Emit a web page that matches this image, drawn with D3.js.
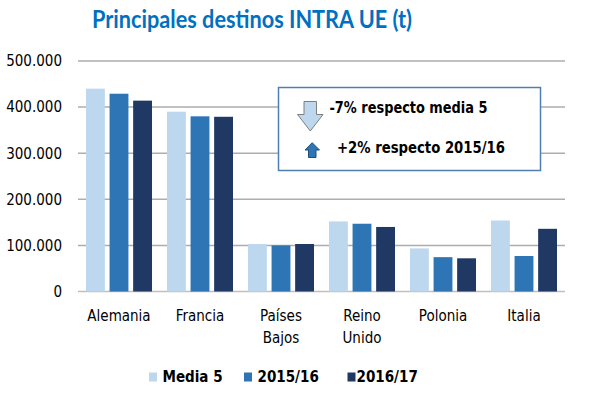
<!DOCTYPE html>
<html>
<head>
<meta charset="utf-8">
<script src="https://cdn.jsdelivr.net/npm/d3@7"></script>
<style>
  body { margin: 0; background: #fff; }
  svg { display: block; }
  text { font-family: "DejaVu Sans Condensed", "DejaVu Sans", sans-serif; fill: #000; }
</style>
</head>
<body>
<svg id="board" width="597" height="404"></svg>
<script>
// datos (toneladas)
let countries = [['Alemania'], ['Francia'], ['Países', 'Bajos'], ['Reino', 'Unido'], ['Polonia'], ['Italia']]
let seriesNames = ['Media 5', '2015/16', '2016/17']
let media5 = [440000, 390000, 103000, 152000, 93500, 154000]
let y1516 = [429000, 380000, 100000, 147000, 74500, 77000]
let y1617 = [414000, 379000, 103000, 140000, 72000, 136000]
let yTicks = [0, 100000, 200000, 300000, 400000, 500000]
let colors = ['#BDD7EE', '#2E75B6', '#1F3864']

let series = [media5, y1516, y1617]

let board = d3.select('#board')

let x = d3.scaleBand()
    .domain(countries.map((c, i) => i))
    .range([78.5, 564.5])
    .paddingInner(0)
    .paddingOuter(0)

let xInner = d3.scaleBand()
    .domain(seriesNames)
    .range([7.5, 73.5])
    .paddingInner(0.2)
    .paddingOuter(0)

let y = d3.scaleLinear()
    .domain([0, 500000])
    .range([291.5, 61])

let fmt = (v) => d3.format(',')(v).replace(/,/g, '.')

// titulo
board.append('text')
    .attr('x', 252)
    .attr('y', 28)
    .attr('text-anchor', 'middle')
    .attr('textLength', 320)
    .attr('lengthAdjust', 'spacingAndGlyphs')
    .style('font-family', 'Lato, "Open Sans", sans-serif')
    .style('font-weight', 'bold')
    .style('font-size', '24px')
    .style('fill', '#0070C0')
    .text('Principales destinos INTRA UE (t)')

// lineas de la rejilla
board.append('g')
    .selectAll('line')
    .data(yTicks)
    .enter()
    .append('line')
    .attr('x1', 78)
    .attr('x2', 565)
    .attr('y1', (d) => y(d))
    .attr('y2', (d) => y(d))
    .attr('stroke', (d) => d === 0 ? '#BFBFBF' : '#ADADAD')
    .attr('stroke-width', 1.5)

// etiquetas del eje y
let yAxis = d3.axisLeft(y).tickValues(yTicks).tickFormat(fmt).tickSize(0).tickPadding(0)
let yg = board.append('g')
    .attr('transform', 'translate(62,0)')
    .call(yAxis)
yg.select('.domain').remove()
yg.selectAll('text')
    .style('font-size', '15px')
    .style('font-family', '"DejaVu Sans Condensed", "DejaVu Sans", sans-serif')
    .attr('fill', '#000')

// barras
let groups = board.append('g')
    .selectAll('g')
    .data(countries)
    .enter()
    .append('g')
    .attr('transform', (d, i) => 'translate(' + x(i) + ',0)')

groups.selectAll('rect')
    .data((d, i) => series.map((s, k) => ({ name: seriesNames[k], value: s[i], k: k })))
    .enter()
    .append('rect')
    .attr('x', (d) => xInner(d.name))
    .attr('width', xInner.bandwidth())
    .attr('y', (d) => y(d.value))
    .attr('height', (d) => y(0) - y(d.value))
    .attr('fill', (d) => colors[d.k])

// etiquetas del eje x
groups.append('text')
    .attr('text-anchor', 'middle')
    .attr('x', x.bandwidth() / 2)
    .style('font-size', '15px')
    .selectAll('tspan')
    .data((d) => d)
    .enter()
    .append('tspan')
    .attr('x', x.bandwidth() / 2)
    .attr('y', (d, i) => 321 + i * 21.5)
    .text((d) => d)

// cuadro de anotacion
board.append('rect')
    .attr('x', 278.5)
    .attr('y', 87.5)
    .attr('width', 262)
    .attr('height', 83)
    .attr('fill', '#fff')
    .attr('stroke', '#4F7FB0')
    .attr('stroke-width', 1.5)

// flecha abajo
let down = [[304, 101.5], [316.5, 101.5], [316.5, 114.5], [323, 114.5], [310.3, 131], [297.5, 114.5], [304, 114.5]]
board.append('path')
    .attr('d', d3.line()(down) + 'Z')
    .attr('fill', '#BDD7EE')
    .attr('stroke', '#7F7F7F')
    .attr('stroke-width', 1)

// flecha arriba
let up = [[308.5, 157.5], [316, 157.5], [316, 150], [319.5, 150], [312.2, 142.7], [305, 150], [308.5, 150]]
board.append('path')
    .attr('d', d3.line()(up) + 'Z')
    .attr('fill', '#2E75B6')
    .attr('stroke', '#1F4E79')
    .attr('stroke-width', 1)

board.append('text')
    .attr('x', 329.5)
    .attr('y', 113)
    .attr('textLength', 158)
    .attr('lengthAdjust', 'spacingAndGlyphs')
    .style('font-size', '16px')
    .style('font-weight', 'bold')
    .text('-7% respecto media 5')

board.append('text')
    .attr('x', 337)
    .attr('y', 153)
    .attr('textLength', 168)
    .attr('lengthAdjust', 'spacingAndGlyphs')
    .style('font-size', '16px')
    .style('font-weight', 'bold')
    .text('+2% respecto 2015/16')

// leyenda
let legendX = [149, 244, 347.5]
let legend = board.append('g')
    .selectAll('g')
    .data(seriesNames)
    .enter()
    .append('g')
    .attr('transform', (d, i) => 'translate(' + legendX[i] + ',0)')

legend.append('rect')
    .attr('x', 0)
    .attr('y', 372.5)
    .attr('width', 8)
    .attr('height', 9)
    .attr('fill', (d, i) => colors[i])

legend.append('text')
    .attr('x', (d, i) => i === 2 ? 9 : 13.5)
    .attr('y', 382)
    .style('font-size', '15px')
    .style('font-weight', 'bold')
    .text((d) => d)
</script>
</body>
</html>
